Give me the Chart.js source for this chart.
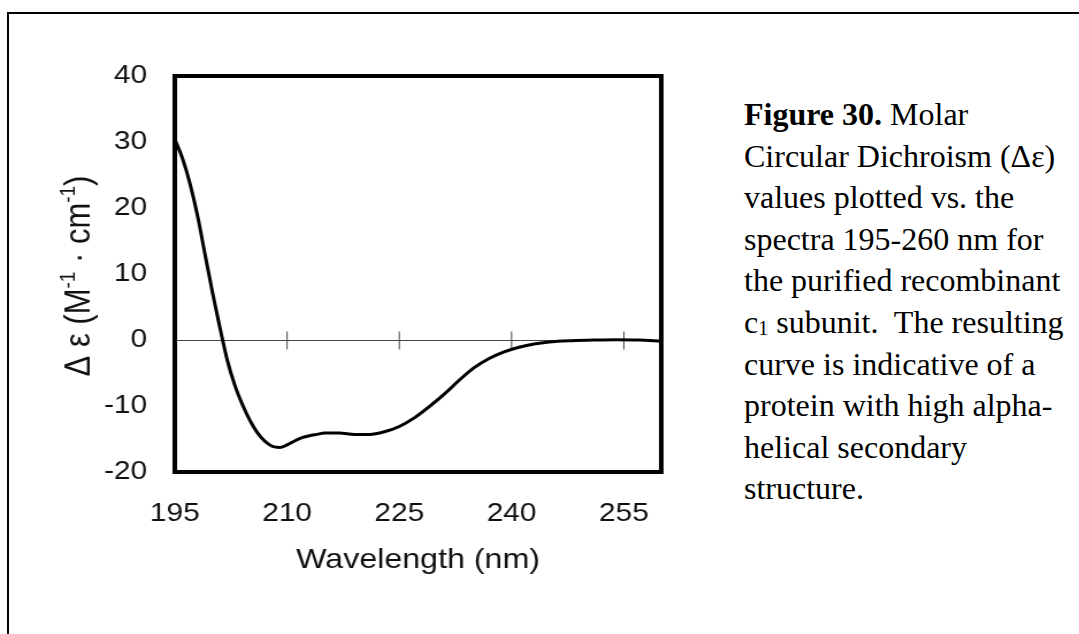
<!DOCTYPE html>
<html>
<head>
<meta charset="utf-8">
<script src="https://cdn.jsdelivr.net/npm/chart.js@4.4.1/dist/chart.umd.min.js"></script>
<style>
  body { margin: 0; background: #fff; width: 1079px; height: 634px; overflow: hidden; position: relative; }
  .frame { position: absolute; left: 7px; top: 12px; width: 1100px; height: 700px; border-left: 2px solid #000; border-top: 2px solid #000; }
  .plot { position: absolute; left: 0; top: 0; width: 620px; height: 634px; transform: scaleX(1.15); transform-origin: 0 0; }
  .caption { position: absolute; left: 744px; top: 94px; font-family: "Liberation Serif", "Times New Roman", serif; font-size: 32px; line-height: 41.6px; color: #000; white-space: nowrap; }
  .caption sub { font-size: 20px; line-height: 0; position: relative; top: 2px; vertical-align: baseline; }
</style>
</head>
<body>
<div class="frame"></div>
<div class="plot"><canvas id="cd" width="620" height="634"></canvas></div>
<div class="caption">
  <b>Figure 30.</b> Molar<br>
  Circular Dichroism (Δε)<br>
  values plotted vs. the<br>
  spectra 195-260 nm for<br>
  the purified recombinant<br>
  c<sub>1</sub> subunit.&nbsp; The resulting<br>
  curve is indicative of a<br>
  protein with high alpha-<br>
  helical secondary<br>
  structure.
</div>
<script>
// wavelength (nm)
const wavelengths = [195, 196, 197, 198, 199, 200, 201, 202, 203, 204, 205, 206, 207, 208, 209,
  210, 211, 212, 213, 214, 215, 217, 219, 221, 223, 225, 227, 229, 231, 233, 235, 237, 239,
  241, 243, 245, 248, 251, 254, 257, 260];
// molar CD, delta epsilon (M-1 cm-1)
const deltaEps = [30.4, 27.6, 23.8, 19.0, 13.2, 7.4, 2.0, -3.0, -6.8, -9.7, -12.1, -14.0, -15.3, -16.1, -16.3,
  -15.9, -15.3, -14.8, -14.5, -14.3, -14.1, -14.1, -14.3, -14.3, -13.9, -13.1, -11.8, -10.1, -8.2, -6.1, -4.2, -2.8, -1.8,
  -1.1, -0.6, -0.3, -0.1, 0.0, 0.05, 0.0, -0.2];
const xTicks = [195, 210, 225, 240, 255];
const yTicks = [-20, -10, 0, 10, 20, 30, 40];

const FONT = '"Liberation Sans", Arial, sans-serif';
const TEXT = '#111';

// plot frame, zero axis with cross ticks, axis titles
const frameAndAxis = {
  id: 'frameAndAxis',
  beforeDatasetsDraw(chart) {
    const { ctx, chartArea: a, scales: { x, y } } = chart;
    const y0 = Math.round(y.getPixelForValue(0)) + 0.5;
    ctx.save();
    ctx.strokeStyle = '#444';
    ctx.lineWidth = 1;
    ctx.beginPath();
    ctx.moveTo(a.left, y0);
    ctx.lineTo(a.right, y0);
    xTicks.slice(1).forEach(v => {
      const px = x.getPixelForValue(v);
      ctx.moveTo(px, y0 - 9);
      ctx.lineTo(px, y0 + 9);
    });
    ctx.stroke();
    ctx.restore();
  },
  afterDraw(chart) {
    const { ctx, chartArea: a } = chart;
    ctx.save();
    ctx.strokeStyle = '#000';
    ctx.lineWidth = 4;
    ctx.strokeRect(a.left, a.top, a.right - a.left, a.bottom - a.top);

    ctx.fillStyle = TEXT;
    // x title
    ctx.font = '28px ' + FONT;
    ctx.textAlign = 'center';
    ctx.textBaseline = 'alphabetic';
    ctx.fillText('Wavelength (nm)', (a.left + a.right) / 2, 568);

    // y title with superscripts
    const parts = [['Δ ε (M', false], ['-1', true], [' · cm', false], ['-1', true], [')', false]];
    const big = '31px ' + FONT, small = '19px ' + FONT;
    let total = 0;
    parts.forEach(p => { ctx.font = p[1] ? small : big; total += ctx.measureText(p[0]).width; });
    ctx.translate(67, 276);
    ctx.rotate(-Math.PI / 2);
    ctx.textAlign = 'left';
    let cx = -total / 2;
    parts.forEach(p => {
      ctx.font = p[1] ? small : big;
      ctx.fillText(p[0], cx, p[1] ? -2 : 11);
      cx += ctx.measureText(p[0]).width;
    });
    ctx.restore();
  }
};

new Chart(document.getElementById('cd'), {
  type: 'line',
  data: {
    datasets: [{
      data: wavelengths.map((w, i) => ({ x: w, y: deltaEps[i] })),
      borderColor: '#000',
      borderWidth: 3,
      pointRadius: 0,
      cubicInterpolationMode: 'monotone',
      fill: false
    }]
  },
  options: {
    responsive: false,
    animation: false,
    layout: { padding: { left: 0, right: 45, top: 76, bottom: 0 } },
    plugins: { legend: { display: false }, tooltip: { enabled: false } },
    scales: {
      x: {
        type: 'linear',
        min: 195,
        max: 260,
        afterBuildTicks: s => { s.ticks = xTicks.map(v => ({ value: v })); },
        afterFit: s => { s.height = 162; },
        grid: { display: false, drawTicks: false },
        border: { display: false },
        ticks: { padding: 26, color: TEXT, font: { family: FONT, size: 26 } }
      },
      y: {
        min: -20,
        max: 40,
        afterBuildTicks: s => { s.ticks = yTicks.map(v => ({ value: v })); },
        afterFit: s => { s.width = 152; },
        grid: { display: false, drawTicks: false },
        border: { display: false },
        ticks: { padding: 24, color: TEXT, font: { family: FONT, size: 26 } }
      }
    }
  },
  plugins: [frameAndAxis]
});
</script>
</body>
</html>
